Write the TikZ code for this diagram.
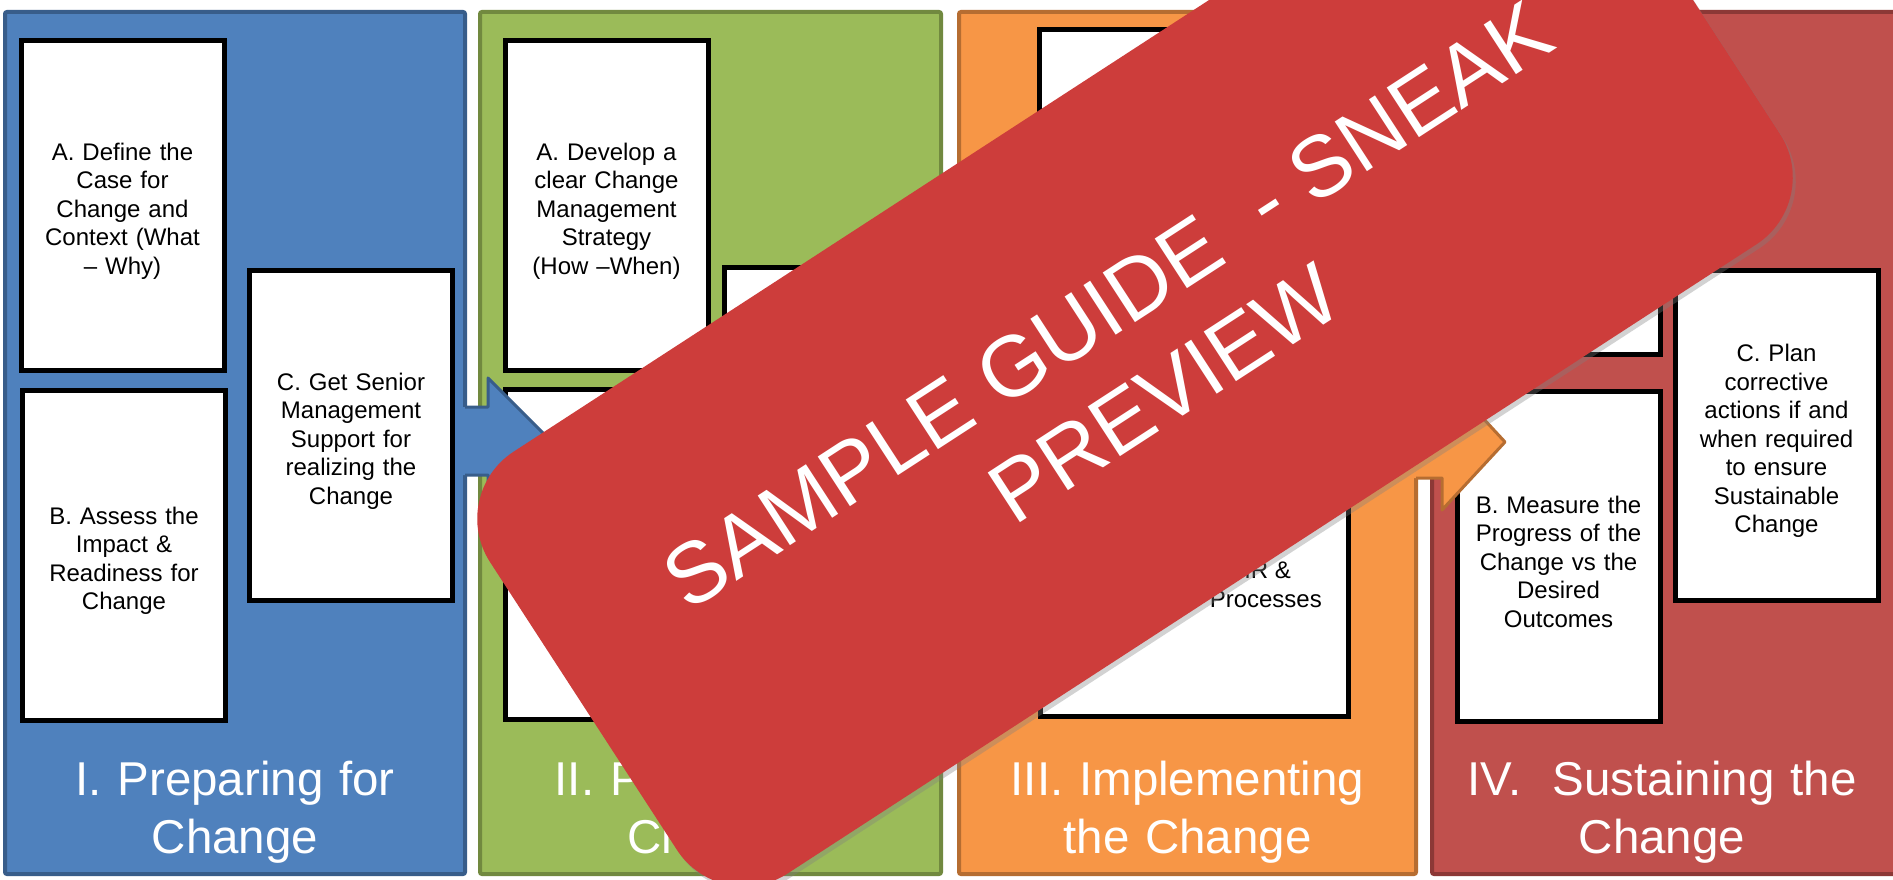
\documentclass[tikz,border=0pt]{standalone}
\usepackage{fontspec}
\setmainfont{Liberation Sans}
\usetikzlibrary{shadows}
\definecolor{bluefill}{HTML}{4F81BD}
\definecolor{blueline}{HTML}{385D8A}
\definecolor{greenfill}{HTML}{9BBB59}
\definecolor{greenline}{HTML}{71893F}
\definecolor{orangefill}{HTML}{F79646}
\definecolor{orangeline}{HTML}{B66D31}
\definecolor{redfill}{HTML}{C0504D}
\definecolor{redline}{HTML}{8C3836}
\definecolor{bannerred}{RGB}{205,61,59}
\begin{document}
\begin{tikzpicture}[x=1pt,y=-1pt,
  panel/.style={line width=4pt, rounded corners=2pt},
  wbox/.style={draw=black, fill=white, line width=5pt, minimum width=203pt, minimum height=330pt,
    text width=195pt, align=center, inner sep=0pt, font=\fontsize{24}{28.5}\selectfont,
    execute at begin node=\rule{0pt}{28pt}},
  widebox/.style={wbox, minimum width=308pt, minimum height=333pt, text width=290pt},
  phasetitle/.style={text=white, text width=440pt, align=center, anchor=base, inner sep=0pt,
    font=\fontsize{47.5}{58}\selectfont},
  frag/.style={inner sep=0pt, anchor=base east, font=\fontsize{24}{28.5}\selectfont},
  banner/.style={fill=bannerred, minimum width=1315pt, minimum height=503pt, rounded corners=80pt,
    drop shadow={shadow xshift=3pt, shadow yshift=-4pt, opacity=0.35}},
  bannertext/.style={text=white, inner sep=0pt, anchor=base, font=\fontsize{86}{105}\selectfont}
]
\clip (0,0) rectangle (1893,880);
\fill[white] (0,0) rectangle (1893,880);

% panels
\draw[panel, fill=bluefill, draw=blueline] (5,12) rectangle (465,874);
\draw[panel, fill=greenfill, draw=greenline] (480,12) rectangle (941,874);
\draw[panel, fill=orangefill, draw=orangeline] (959,12) rectangle (1416,874);
\draw[panel, fill=redfill, draw=redline] (1432,12) rectangle (1900,874);

% panel I
\node[wbox] (a1) at (122.5,205.5) {A. Define the\\Case for\\Change and\\Context (What\\-- Why)};
\node[wbox] (b1) at (124,555.5) {B. Assess the\\Impact \&\\Readiness for\\Change};
\node[wbox] (c1) at (351,435.5) {C. Get Senior\\Management\\Support for\\realizing the\\Change};
\node[phasetitle] (t1) at (235,795) {I. Preparing for\\Change};

% panel II
\node[wbox] (a2) at (606.5,205.5) {A. Develop a\\clear Change\\Management\\Strategy\\(How --When)};
\node[wbox] (b2) at (606.5,554.5) {};
\node[wbox] (c2) at (826,432.5) {};
\node[phasetitle] (t2) at (710.5,795) {II. Planning for\\Change};

% panel III
\node[widebox] (a3) at (1193.5,196.5) {};
\node[widebox] (b3) at (1194,550) {};
\node[frag] (f1) at (1291,578) {HR \&};
\node[frag] (f2) at (1322,607) {Processes};
\node[phasetitle] (t3) at (1187.5,795) {III. Implementing\\the Change};

% panel IV
\node[wbox] (a4) at (1558.5,189.5) {};
\node[wbox] (b4) at (1558.5,556.5) {B. Measure the\\Progress of the\\Change vs the\\Desired\\Outcomes};
\node[wbox] (c4) at (1776.5,435.5) {C. Plan\\corrective\\actions if and\\when required\\to ensure\\Sustainable\\Change};
\node[phasetitle] (t4) at (1662,795) {IV.~ Sustaining the\\Change};

% arrows between phases
\fill[bluefill] (461,407) -- (488,407) -- (488,378) -- (550,440) -- (488,502) -- (488,475) -- (461,475) -- cycle;
\draw[blueline, line width=3pt, line join=round] (465,407) -- (488,407) -- (488,378) -- (550,440) -- (488,502) -- (488,475) -- (465,475);
\fill[orangefill] (1412,406) -- (1442,406) -- (1442,374) -- (1505,442) -- (1442,510) -- (1442,478) -- (1412,478) -- cycle;
\draw[orangeline, line width=3pt, line join=round] (1416,406) -- (1442,406) -- (1442,374) -- (1505,442) -- (1442,510) -- (1442,478) -- (1416,478);

% banner
\begin{scope}[shift={(1135,348)}, rotate=33, transform shape]
  \node[banner] (ban) at (0,0) {};
  \node[bannertext] (bt1) at (0,-21.5) {SAMPLE GUIDE~ - SNEAK};
  \node[bannertext] (bt2) at (0,83.5) {PREVIEW};
\end{scope}
\end{tikzpicture}
\end{document}
